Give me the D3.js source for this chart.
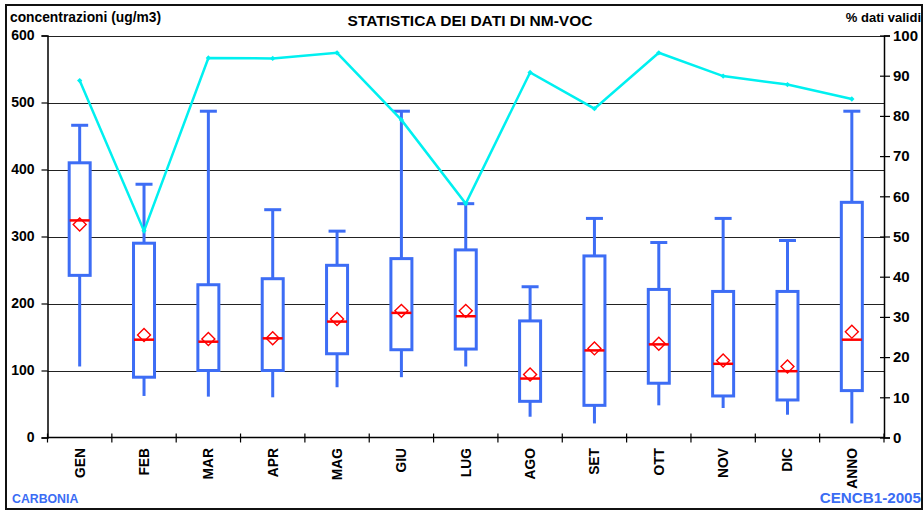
<!DOCTYPE html>
<html>
<head>
<meta charset="utf-8">
<script src="https://cdn.jsdelivr.net/npm/d3@7"></script>
<style>
  html, body { margin: 0; padding: 0; background: #fff; }
  svg { display: block; }
  text { font-family: "Liberation Sans", Arial, sans-serif; font-weight: bold; }
</style>
</head>
<body>
<svg id="chart" width="924" height="511"></svg>
<script>
// NM-VOC monthly statistics, Carbonia station CENCB1, 2005
const months   = ["GEN","FEB","MAR","APR","MAG","GIU","LUG","AGO","SET","OTT","NOV","DIC","ANNO"];
const whiskLow = [106, 62, 61, 60, 75, 90, 106, 31, 21, 48, 44, 34, 21];
const boxLow   = [242, 90, 100, 100, 125, 131, 132, 54, 48, 81, 62, 56, 70];
const medians  = [324, 146, 143, 148, 173, 186, 181, 88, 130, 139, 110, 99, 146];
const means    = [318, 153, 147, 148, 177, 189, 189, 94, 133, 140, 115, 106, 158];
const boxHigh  = [410, 290, 228, 237, 257, 267, 280, 174, 271, 221, 218, 218, 351];
const whiskHigh= [466, 378, 487, 340, 308, 487, 349, 225, 327, 291, 327, 294, 487];
const validPct = [88.8, 51.4, 94.4, 94.3, 95.7, 79.0, 58.2, 90.8, 81.8, 95.7, 89.9, 87.8, 84.2];
const concTicks = [0, 100, 200, 300, 400, 500, 600];
const pctTicks  = [0, 10, 20, 30, 40, 50, 60, 70, 80, 90, 100];

const svg = d3.select("#chart");
const plotL = 47.5, plotR = 884, plotT = 35.5, plotB = 437.5;
const blue = "#3d6df5", red = "#ff0000", cyan = "#00f0f0";

const x  = d3.scaleBand().domain(months).range([plotL, plotR]);
const yL = d3.scaleLinear().domain([0, 600]).range([plotB, plotT]);
const yR = d3.scaleLinear().domain([0, 100]).range([plotB, plotT]);
const cx = m => x(m) + x.bandwidth() / 2;

// outer frame
svg.append("rect").attr("x", 6).attr("y", 5).attr("width", 916).attr("height", 504)
  .attr("fill", "none").attr("stroke", "#111").attr("stroke-width", 2);

// horizontal gridlines (including the plot top edge)
svg.append("g").selectAll("line").data(concTicks.filter(t => t > 0)).join("line")
  .attr("x1", plotL).attr("x2", plotR)
  .attr("y1", d => Math.round(yL(d)) + 0.5).attr("y2", d => Math.round(yL(d)) + 0.5)
  .attr("stroke", "#222").attr("stroke-width", 1);

// left axis
const axL = svg.append("g").attr("transform", `translate(${plotL},0)`)
  .call(d3.axisLeft(yL).tickValues(concTicks).tickSize(6).tickPadding(7));
axL.select(".domain").attr("stroke", "#000").attr("stroke-width", 1.5);
axL.selectAll(".tick line").attr("stroke", "#000").attr("stroke-width", 1.2);
axL.selectAll("text").attr("font-size", 14).attr("fill", "#000")
  .style("font-family", "'Liberation Sans', Arial, sans-serif").style("font-weight", "bold");

// right axis (% valid data), ticks crossing the line
const axR = svg.append("g").attr("transform", `translate(${plotR},0)`)
  .call(d3.axisRight(yR).tickValues(pctTicks).tickSize(6).tickPadding(3));
axR.select(".domain").attr("stroke", "#000").attr("stroke-width", 1.5);
axR.selectAll(".tick line").attr("x1", -4).attr("stroke", "#000").attr("stroke-width", 1.2);
axR.selectAll("text").attr("font-size", 15).attr("fill", "#000")
  .style("font-family", "'Liberation Sans', Arial, sans-serif").style("font-weight", "bold");

// bottom axis with category-boundary ticks
svg.append("line").attr("x1", plotL).attr("x2", plotR).attr("y1", plotB).attr("y2", plotB)
  .attr("stroke", "#000").attr("stroke-width", 1.5);
const bounds = months.map(m => x(m)).concat([x.range()[1]]);
svg.append("g").selectAll("line").data(bounds).join("line")
  .attr("x1", d => d).attr("x2", d => d).attr("y1", plotB - 4).attr("y2", plotB + 5)
  .attr("stroke", "#000").attr("stroke-width", 1.2);
svg.append("g").selectAll("text").data(months).join("text")
  .attr("transform", m => `translate(${cx(m)},448) rotate(-90)`)
  .attr("dy", "0.36em").attr("text-anchor", "end").attr("font-size", 13.8).attr("fill", "#000")
  .text(m => m);

// box plots
const stats = months.map((m, i) => ({
  m, lo: whiskLow[i], q1: boxLow[i], med: medians[i], mean: means[i], q3: boxHigh[i], hi: whiskHigh[i]
}));
const boxW = 21, capW = 17, medW = 20;
const g = svg.append("g");
// whiskers
g.selectAll(".wh").data(stats).join("line").attr("class", "wh")
  .attr("x1", d => cx(d.m)).attr("x2", d => cx(d.m))
  .attr("y1", d => yL(d.hi)).attr("y2", d => yL(d.q3))
  .attr("stroke", blue).attr("stroke-width", 3);
g.selectAll(".wl").data(stats).join("line").attr("class", "wl")
  .attr("x1", d => cx(d.m)).attr("x2", d => cx(d.m))
  .attr("y1", d => yL(d.q1)).attr("y2", d => yL(d.lo))
  .attr("stroke", blue).attr("stroke-width", 3);
g.selectAll(".cap").data(stats).join("line").attr("class", "cap")
  .attr("x1", d => cx(d.m) - capW / 2).attr("x2", d => cx(d.m) + capW / 2)
  .attr("y1", d => yL(d.hi)).attr("y2", d => yL(d.hi))
  .attr("stroke", blue).attr("stroke-width", 3);
g.selectAll(".box").data(stats).join("rect").attr("class", "box")
  .attr("x", d => cx(d.m) - boxW / 2).attr("width", boxW)
  .attr("y", d => yL(d.q3)).attr("height", d => yL(d.q1) - yL(d.q3))
  .attr("fill", "#fff").attr("stroke", blue).attr("stroke-width", 3);
g.selectAll(".med").data(stats).join("line").attr("class", "med")
  .attr("x1", d => cx(d.m) - medW / 2).attr("x2", d => cx(d.m) + medW / 2)
  .attr("y1", d => yL(d.med)).attr("y2", d => yL(d.med))
  .attr("stroke", red).attr("stroke-width", 2.5);
const diamond = d3.symbol().type(d3.symbolSquare).size(84);
g.selectAll(".mean").data(stats).join("path").attr("class", "mean")
  .attr("d", diamond)
  .attr("transform", d => `translate(${cx(d.m)},${yL(d.mean)}) rotate(45)`)
  .attr("fill", "none").attr("stroke", red).attr("stroke-width", 1.4);

// % valid data line
const pts = months.map((m, i) => [cx(m), yR(validPct[i])]);
svg.append("path").attr("d", d3.line()(pts))
  .attr("fill", "none").attr("stroke", cyan).attr("stroke-width", 2.5);
svg.append("g").selectAll("path").data(pts).join("path")
  .attr("d", d3.symbol().type(d3.symbolSquare).size(14))
  .attr("transform", p => `translate(${p[0]},${p[1]}) rotate(45)`)
  .attr("fill", cyan);

// titles and captions
svg.append("text").attr("x", 10).attr("y", 22).attr("font-size", 13.8).attr("fill", "#000")
  .text("concentrazioni (ug/m3)");
svg.append("text").attr("x", 470).attr("y", 26).attr("text-anchor", "middle").attr("font-size", 15.5)
  .attr("fill", "#000").text("STATISTICA DEI DATI DI NM-VOC");
svg.append("text").attr("x", 921).attr("y", 22).attr("text-anchor", "end").attr("font-size", 13)
  .attr("fill", "#000").text("% dati validi");
svg.append("text").attr("x", 12).attr("y", 503).attr("font-size", 12.3).attr("fill", "#3a6cf4")
  .text("CARBONIA");
svg.append("text").attr("x", 921).attr("y", 503).attr("text-anchor", "end").attr("font-size", 15.2)
  .attr("fill", "#3a6cf4").text("CENCB1-2005");
</script>
</body>
</html>
